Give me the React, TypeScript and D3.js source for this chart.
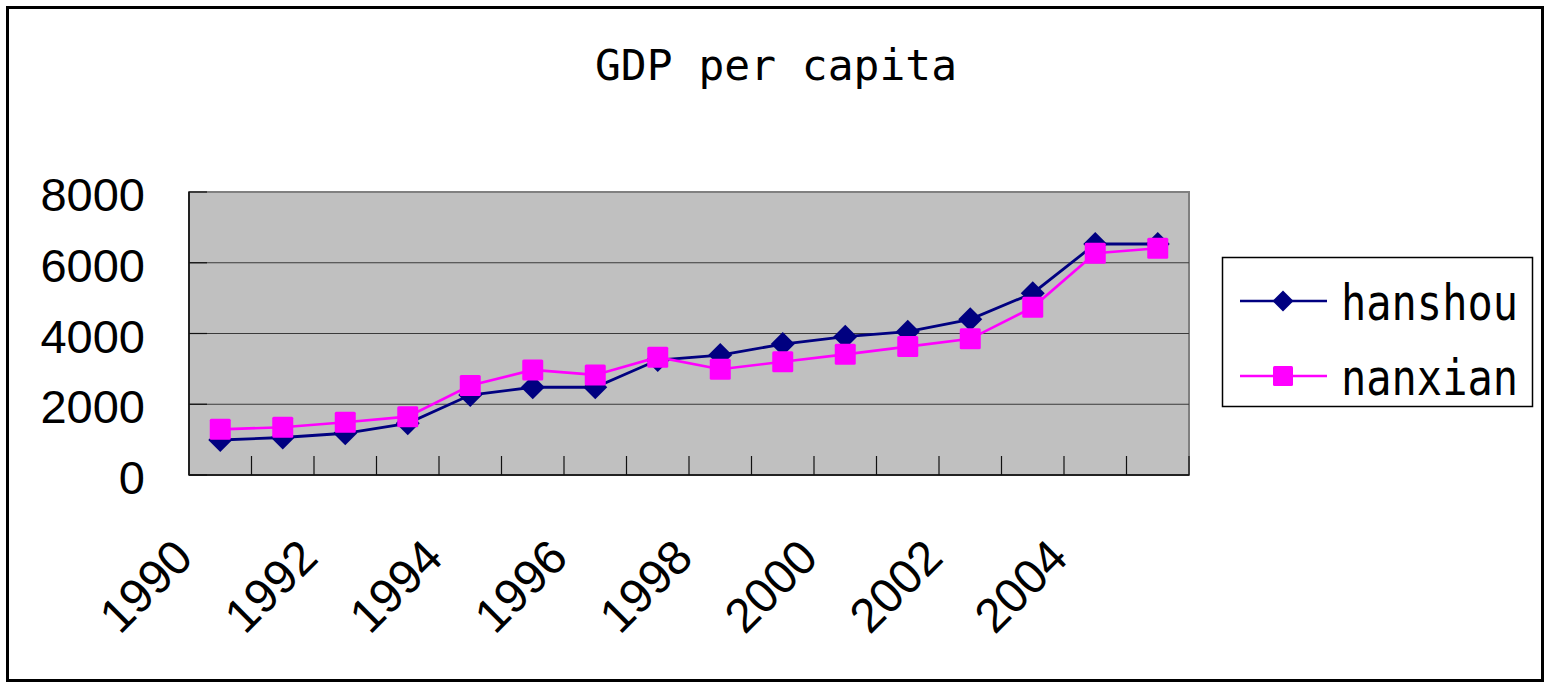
import React, { useEffect, useRef } from "react";
import * as d3 from "d3";

const years = ["1990","1991","1992","1993","1994","1995","1996","1997","1998","1999","2000","2001","2002","2003","2004","2005"];
const hanshou = [990, 1060, 1180, 1460, 2260, 2480, 2480, 3250, 3390, 3700, 3910, 4050, 4400, 5140, 6530, 6530];
const nanxian = [1290, 1350, 1490, 1650, 2530, 2970, 2830, 3330, 2990, 3200, 3410, 3630, 3850, 4740, 6270, 6410];
const yTicks = [0, 2000, 4000, 6000, 8000];
const seriesNames = ["hanshou", "nanxian"];

const App = () => {
  const svgRef = useRef<SVGSVGElement>(null);

  useEffect(() => {
    const W = 1550;
    const H = 685;
    const svg = d3.select(svgRef.current).attr("width", W).attr("height", H);
    svg.selectAll("*").remove();

    const left = 189, right = 1189, top = 192, bottom = 475;
    const x = d3.scaleBand().domain(years).range([left, right]).padding(0);
    const y = d3.scaleLinear().domain([0, 8000]).range([bottom, top]);
    const cx = (yr: string) => (x(yr) as number) + x.bandwidth() / 2;

    svg.append("rect").attr("width", W).attr("height", H).attr("fill", "#fff");

    // outer chart frame
    svg.append("rect")
      .attr("x", 7.5).attr("y", 7.5).attr("width", 1535).attr("height", 673)
      .attr("fill", "#fff").attr("stroke", "#000").attr("stroke-width", 3);

    svg.append("text")
      .attr("x", 776).attr("y", 80)
      .attr("text-anchor", "middle")
      .attr("font-family", "DejaVu Sans Mono")
      .attr("font-size", 42)
      .attr("textLength", 362)
      .attr("lengthAdjust", "spacingAndGlyphs")
      .text("GDP per capita");

    // plot area
    svg.append("rect")
      .attr("x", left).attr("y", top).attr("width", right - left).attr("height", bottom - top)
      .attr("fill", "#c0c0c0").attr("stroke", "#808080").attr("stroke-width", 2);

    svg.append("g").selectAll("line").data(yTicks.slice(1, -1)).enter().append("line")
      .attr("x1", left).attr("x2", right)
      .attr("y1", (d) => y(d)).attr("y2", (d) => y(d))
      .attr("stroke", "#3a3a3a").attr("stroke-width", 1.2);

    // axes
    svg.append("line").attr("x1", left).attr("x2", left).attr("y1", top).attr("y2", bottom)
      .attr("stroke", "#222").attr("stroke-width", 2);
    svg.append("line").attr("x1", left).attr("x2", right).attr("y1", bottom).attr("y2", bottom)
      .attr("stroke", "#222").attr("stroke-width", 2);

    svg.append("g").selectAll("line").data(yTicks).enter().append("line")
      .attr("x1", left).attr("x2", left + 18)
      .attr("y1", (d) => y(d)).attr("y2", (d) => y(d))
      .attr("stroke", "#111").attr("stroke-width", 1.2);

    svg.append("g").selectAll("line").data(years).enter().append("line")
      .attr("x1", (d) => (x(d) as number) + x.bandwidth()).attr("x2", (d) => (x(d) as number) + x.bandwidth())
      .attr("y1", bottom).attr("y2", bottom - 19)
      .attr("stroke", "#111").attr("stroke-width", 1.2);

    svg.append("g").selectAll("text").data(yTicks).enter().append("text")
      .attr("x", 145).attr("y", (d) => y(d) + 19)
      .attr("text-anchor", "end")
      .attr("font-family", "Liberation Sans, Arial, sans-serif")
      .attr("font-size", 47)
      .text((d) => d);

    svg.append("g").selectAll("text").data(years.filter((_, i) => i % 2 === 0)).enter().append("text")
      .attr("transform", (d) => `translate(${cx(d) - 25},${560}) rotate(-45)`)
      .attr("text-anchor", "end")
      .attr("font-family", "Liberation Sans, Arial, sans-serif")
      .attr("font-size", 48)
      .text((d) => d);

    const line = d3.line<number>().x((_, i) => cx(years[i])).y((d) => y(d));
    const diamond = (s: number) => `M0,${-s}L${s},0L0,${s}L${-s},0Z`;

    svg.append("path").attr("d", line(hanshou)).attr("fill", "none")
      .attr("stroke", "#000080").attr("stroke-width", 2.8);
    svg.append("g").selectAll("path").data(hanshou).enter().append("path")
      .attr("d", diamond(12))
      .attr("transform", (d, i) => `translate(${cx(years[i])},${y(d)})`)
      .attr("fill", "#000080");

    svg.append("path").attr("d", line(nanxian)).attr("fill", "none")
      .attr("stroke", "#ff00ff").attr("stroke-width", 2.6);
    svg.append("g").selectAll("rect").data(nanxian).enter().append("rect")
      .attr("x", (d, i) => cx(years[i]) - 10.5).attr("y", (d) => y(d) - 10.5)
      .attr("width", 21).attr("height", 21).attr("rx", 1.5)
      .attr("fill", "#ff00ff");

    // legend
    const lg = svg.append("g");
    lg.append("rect").attr("x", 1222.5).attr("y", 257.5).attr("width", 310).attr("height", 149)
      .attr("fill", "#fff").attr("stroke", "#000").attr("stroke-width", 1.5);
    const rowsY = [301, 376];
    const colors = ["#000080", "#ff00ff"];
    seriesNames.forEach((name, i) => {
      lg.append("line").attr("x1", 1240).attr("x2", 1327).attr("y1", rowsY[i]).attr("y2", rowsY[i])
        .attr("stroke", colors[i]).attr("stroke-width", 2.4);
      if (i === 0) {
        lg.append("path").attr("d", diamond(10.5)).attr("transform", `translate(1283,${rowsY[i]})`)
          .attr("fill", colors[i]);
      } else {
        lg.append("rect").attr("x", 1273).attr("y", rowsY[i] - 10).attr("width", 20).attr("height", 20)
          .attr("rx", 1.5).attr("fill", colors[i]);
      }
      lg.append("text").attr("x", 1341).attr("y", rowsY[i] + 19)
        .attr("font-family", "DejaVu Sans Mono")
        .attr("font-size", 49)
        .attr("textLength", 177)
        .attr("lengthAdjust", "spacingAndGlyphs")
        .text(name);
    });
  }, []);

  return (
    <div style={{ position: "absolute", left: 0, top: 0 }}>
      <svg ref={svgRef} style={{ display: "block" }}></svg>
    </div>
  );
};

export default App;
